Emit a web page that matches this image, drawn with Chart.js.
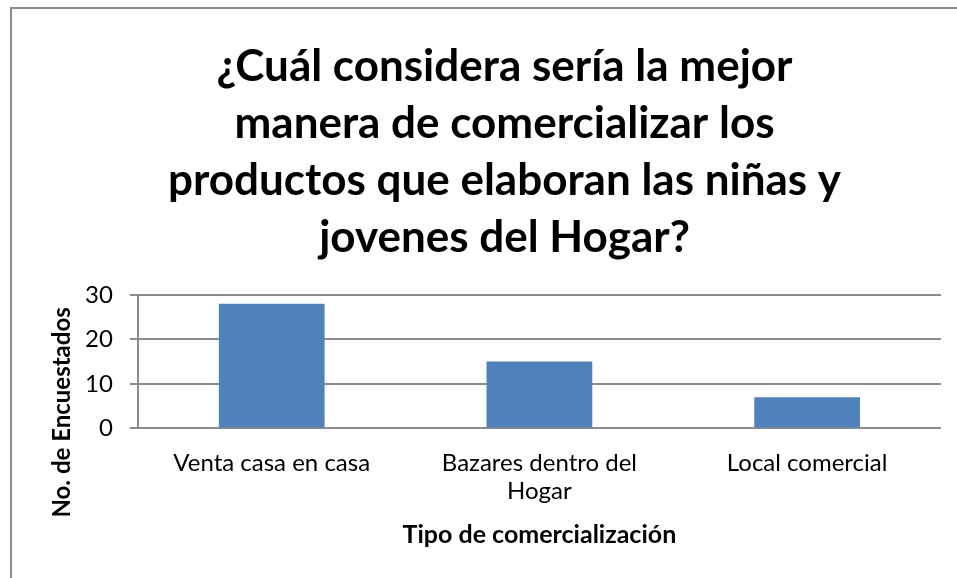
<!DOCTYPE html>
<html>
<head>
<meta charset="utf-8">
<script src="https://cdn.jsdelivr.net/npm/chart.js@4"></script>
<style>
  body { margin: 0; background: #fff; }
  #wrap { position: relative; width: 957px; height: 578px; }
  #frame { position: absolute; left: 10px; top: 7px; right: -2px; bottom: -2px;
           border-left: 2px solid #8c8c8c; border-top: 2px solid #8c8c8c; }
  canvas { position: absolute; left: 0; top: 0; }
</style>
</head>
<body>
<div id="wrap">
  <div id="frame"></div>
  <canvas id="myChart" width="957" height="578"></canvas>
</div>
<script>
const categories = ["Venta casa en casa", ["Bazares dentro del", "Hogar"], "Local comercial"];
const values = [28, 15, 7];
const yTicks = [0, 10, 20, 30];
const titleLines = [
  "¿Cuál considera sería la mejor",
  "manera de comercializar los",
  "productos que elaboran las niñas y",
  "jovenes del Hogar?"
];
const yTitle = "No. de Encuestados";
const xTitle = "Tipo de comercialización";

const gridColor = "#8c8c8c";

// Excel centres the value-axis title on the whole plot block, not just the axis
const yTitlePlugin = {
  id: "yTitle",
  afterDraw(chart) {
    const ctx = chart.ctx;
    const cx = chart.chartArea.left - 76;
    const cy = (chart.chartArea.top + chart.scales.x.bottom) / 2 - 10;
    ctx.save();
    ctx.translate(cx, cy);
    ctx.rotate(-Math.PI / 2);
    ctx.fillStyle = "#000";
    ctx.font = "bold 24px Lato";
    ctx.textAlign = "center";
    ctx.textBaseline = "middle";
    ctx.fillText(yTitle, 0, 0);
    ctx.restore();
  },
};

const myChart = new Chart("myChart", {
  type: "bar",
  data: {
    labels: categories,
    datasets: [
      {
        label: "Encuestados",
        data: values,
        backgroundColor: "#4f81bd",
        barPercentage: 0.395,
        categoryPercentage: 1,
      },
    ],
  },
  options: {
    responsive: false,
    animation: false,
    layout: {
      padding: { left: 68, right: 16, top: 38, bottom: 28 },
    },
    plugins: {
      legend: { display: false },
      tooltip: { enabled: false },
      title: {
        display: true,
        text: titleLines,
        color: "#000",
        font: { family: "Lato", size: 44, weight: "bold", lineHeight: 1.3 },
        padding: { top: 0, bottom: 28 },
      },
    },
    scales: {
      y: {
        min: 0,
        max: 30,
        afterBuildTicks: (axis) => {
          axis.ticks = yTicks.map((v) => ({ value: v }));
        },
        ticks: {
          color: "#000",
          font: { family: "Lato", size: 24 },
          padding: 17,
        },
        grid: { color: gridColor, lineWidth: 2, tickLength: 8 },
        border: { color: gridColor, width: 2 },
      },
      x: {
        grid: { display: false },
        border: { display: false },
        ticks: {
          color: "#000",
          font: { family: "Lato", size: 24 },
          padding: 12,
          maxRotation: 0,
        },
        title: {
          display: true,
          text: xTitle,
          color: "#000",
          font: { family: "Lato", size: 25, weight: "bold" },
          padding: { top: 2, bottom: 0 },
        },
      },
    },
  },
  plugins: [yTitlePlugin],
});
</script>
</body>
</html>
